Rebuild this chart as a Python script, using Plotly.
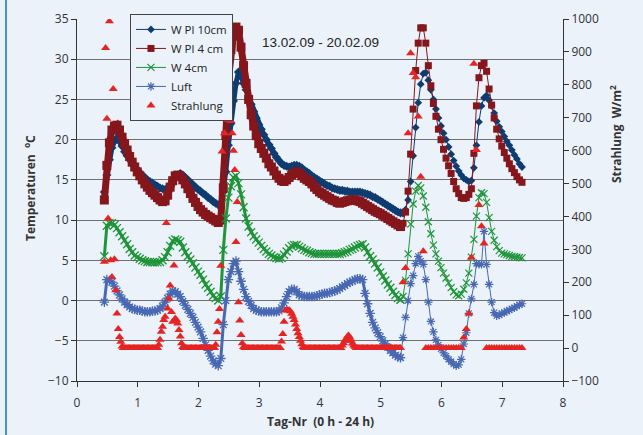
import plotly.graph_objects as go

# ---------------- data ----------------
start_day = 0.45          # first sample (day number)
temp_step = 1 / 24        # hourly temperature samples
rad_step = 1 / 48         # half-hourly radiation samples in the first (dense) period

# W Pl 10cm  [deg C]  dense logger period
wpl10_dense = [
    13.5, 15.6, 17.5, 19.0, 19.8, 20.2, 19.8, 19.2, 18.5, 18.0,
    17.5, 17.1, 16.7, 16.3, 15.9, 15.6, 15.3, 15.0, 14.8, 14.6,
    14.4, 14.2, 14.0, 13.9, 13.8, 14.0, 14.4, 14.9, 15.3, 15.6,
    15.8, 15.6, 15.3, 15.0, 14.7, 14.4, 14.1, 13.8, 13.6, 13.3,
    13.1, 12.8, 12.6, 12.3, 12.1, 11.9, 11.7, 13.5, 16.0, 19.3,
    22.0, 24.8, 27.0, 28.4, 27.9, 27.0, 26.2, 25.3, 24.4, 23.5,
    22.7, 21.9, 21.3, 20.6, 20.0, 19.4, 18.9, 18.3, 17.8, 17.4,
    17.0, 16.8, 16.7, 16.6, 16.7, 16.8, 16.8, 16.7, 16.5, 16.2,
    16.0, 15.8, 15.5, 15.3, 15.1, 14.9, 14.7, 14.5, 14.3, 14.2,
    14.0, 13.9, 13.8, 13.7, 13.7, 13.6, 13.6, 13.5, 13.5, 13.5,
    13.5, 13.5, 13.4, 13.3, 13.2, 13.1, 12.9, 12.8, 12.6, 12.4,
    12.2, 12.0, 11.8, 11.6, 11.4, 11.2, 11.0, 10.9,
]
# W Pl 10cm  hourly period
wpl10_sparse = [
    10.8, 11.3, 12.5, 14.8, 18.0, 21.5, 24.6, 26.9, 28.2, 28.35,
    27.4, 26.2, 25.0, 23.8, 22.7, 21.7, 20.8, 20.0, 19.1, 18.2,
    17.4, 16.7, 16.1, 15.6, 15.2, 15.0, 14.8, 14.9, 16.5, 19.3,
    22.2, 24.2, 25.2, 25.5, 24.9, 24.2, 23.3, 22.3, 21.6, 21.0,
    20.4, 19.8, 19.3, 18.7, 18.1, 17.6, 17.0, 16.6,
]

# W Pl 4 cm
wpl4_dense = [
    12.5, 16.8, 19.6, 21.2, 21.7, 21.8, 21.2, 20.3, 19.5, 18.7,
    17.9, 17.2, 16.6, 16.0, 15.5, 15.0, 14.5, 14.1, 13.7, 13.4,
    13.1, 12.8, 12.5, 12.3, 12.4, 13.1, 14.1, 14.9, 15.5, 15.6,
    15.4, 15.0, 14.5, 13.9, 13.3, 12.7, 12.2, 11.7, 11.3, 11.0,
    10.7, 10.5, 10.3, 10.1, 9.9, 9.7, 10.0, 14.0, 20.5, 27.5,
    31.2, 33.0, 34.0, 33.6, 31.5, 29.2, 27.0, 25.0, 23.1, 21.7,
    20.5, 19.5, 18.9, 18.3, 17.7, 17.0, 16.6, 16.1, 15.6, 15.2,
    14.9, 14.8, 15.0, 15.3, 15.6, 15.9, 16.0, 15.8, 15.5, 15.2,
    15.0, 14.8, 14.5, 14.1, 13.8, 13.5, 13.3, 13.1, 12.9, 12.7,
    12.5, 12.4, 12.2, 12.1, 12.2, 12.3, 12.4, 12.5, 12.5, 12.5,
    12.4, 12.3, 12.1, 11.9, 11.7, 11.5, 11.3, 11.1, 10.95, 10.8,
    10.6, 10.4, 10.2, 10.0, 9.8, 9.6, 9.4, 9.2,
]
wpl4_sparse = [
    9.6, 11.0, 13.6, 18.2, 23.8, 28.6, 32.0, 33.9, 33.9, 32.0,
    29.2, 26.7, 24.5, 22.9, 21.3, 20.0, 18.8, 17.7, 16.75, 15.8,
    14.8, 13.9, 13.3, 12.8, 12.7, 12.8, 13.2, 13.9, 18.3, 24.2,
    27.7, 29.2, 29.5, 28.5, 26.3, 24.3, 22.7, 21.3, 20.1, 19.2,
    18.4, 17.7, 17.0, 16.4, 15.9, 15.4, 15.0, 14.7,
]

# W 4cm
w4_dense = [
    5.5, 9.3, 9.6, 9.6, 9.4, 9.0, 8.5, 8.0, 7.5, 7.0,
    6.4, 6.0, 5.6, 5.4, 5.2, 5.0, 4.9, 4.8, 4.8, 4.75,
    4.75, 4.75, 4.8, 5.0, 5.4, 6.0, 6.8, 7.4, 7.6, 7.5,
    7.3, 6.6, 6.0, 5.5, 5.1, 4.6, 4.1, 3.6, 3.2, 2.6,
    2.0, 1.6, 1.1, 0.6, 0.3, 0.0, 0.5, 6.3, 10.2, 12.8,
    14.2, 15.3, 15.5, 14.6, 13.2, 11.6, 10.2, 9.2, 8.5, 8.0,
    7.6, 7.2, 6.8, 6.4, 6.1, 5.8, 5.6, 5.4, 5.3, 5.2,
    5.3, 5.7, 6.1, 6.5, 6.8, 6.9, 6.9, 6.7, 6.5, 6.3,
    6.2, 6.0, 5.9, 5.8, 5.8, 5.8, 5.8, 5.8, 5.8, 5.8,
    5.8, 5.8, 5.8, 5.8, 5.9, 6.0, 6.1, 6.3, 6.4, 6.6,
    6.8, 6.9, 7.0, 6.6, 6.0, 5.5, 5.1, 4.6, 4.1, 3.5,
    3.0, 2.5, 2.0, 1.6, 1.1, 0.7, 0.3, 0.1,
]
w4_sparse = [
    0.5, 2.5, 5.8, 9.5, 12.0, 13.6, 14.3, 14.0, 13.0, 11.6,
    9.8, 8.3, 6.9, 5.8, 4.9, 4.1, 3.4, 2.8, 2.2, 1.6,
    1.1, 0.7, 0.6, 0.8, 1.4, 2.2, 3.4, 5.4, 7.6, 10.5,
    12.8, 13.4, 13.3, 12.2, 10.3, 8.6, 7.5, 6.7, 6.2, 5.9,
    5.8, 5.7, 5.6, 5.5, 5.45, 5.4, 5.35, 5.3,
]

# Luft
luft_dense = [
    -0.2, 2.6, 2.5, 2.3, 1.8, 1.2, 0.7, 0.2, -0.2, -0.5,
    -0.8, -1.0, -1.1, -1.2, -1.2, -1.3, -1.4, -1.4, -1.4, -1.3,
    -1.3, -1.2, -1.0, -0.7, -0.2, 0.3, 0.8, 1.2, 1.1, 0.8,
    0.5, -0.1, -0.6, -1.1, -1.6, -2.1, -2.7, -3.3, -3.9, -4.7,
    -5.5, -6.2, -6.9, -7.5, -7.9, -8.1, -7.2, -3.0, 0.0, 2.6,
    3.6, 4.6, 4.9, 3.6, 2.4, 1.4, 0.5, -0.1, -0.6, -1.0,
    -1.2, -1.3, -1.4, -1.4, -1.4, -1.4, -1.4, -1.4, -1.4, -1.3,
    -0.9, -0.3, 0.5, 1.1, 1.4, 1.4, 1.1, 0.7, 0.6, 0.5,
    0.5, 0.5, 0.5, 0.5, 0.6, 0.7, 0.8, 0.9, 0.9, 1.0,
    1.1, 1.2, 1.3, 1.5, 1.7, 1.9, 2.1, 2.3, 2.4, 2.6,
    2.7, 2.7, 2.6, 0.9, -0.4, -1.6, -2.7, -3.4, -4.0, -4.5,
    -5.0, -5.4, -5.8, -6.2, -6.5, -6.8, -7.0, -7.1,
]
luft_sparse = [
    -4.6, -2.1, 0.0, 2.1, 3.1, 4.6, 5.5, 4.9, 4.5, 2.6,
    -0.2, -2.6, -3.9, -4.9, -5.5, -6.0, -6.5, -6.9, -7.3, -7.6,
    -7.9, -8.1, -8.0, -7.3, -5.4, -4.0, -1.6, 0.2, 2.0, 4.6,
    4.5, 4.5, 8.6, 4.5, 2.0, -0.2, -1.5, -1.9, -1.8, -1.6,
    -1.5, -1.3, -1.2, -1.0, -0.9, -0.7, -0.5, -0.4,
]

# Strahlung [W/m2], half-hourly in the dense period
strahl_dense = [
    262, 912, 697, 394, 993, 267, 216, 787, 270, 176, 105, 58, 34, 19, 5,
    0, 0, 0, 0, 0, 0, 0, 0, 0, 0, 0, 0, 0, 0, 0, 0, 0, 0, 0, 0, 0, 0, 0, 0, 0, 0, 0, 0,
    10, 25, 50, 65, 85, 95, 380, 120, 150, 190, 110, 80, 251, 90, 85, 75, 55, 35, 15, 3,
    0, 0, 0, 0, 0, 0, 0, 0, 0, 0, 0, 0, 0, 0, 0, 0, 0, 0, 0, 0, 0, 0, 0, 0, 0,
    10, 48, 80, 119, 250, 597, 785, 653, 734, 880, 693, 896, 690, 653, 600, 541, 322, 444, 139, 84, 40, 15, 3,
    0, 0, 0, 0, 0, 0, 0, 0, 0, 0, 0, 0, 0, 0, 0, 0, 0, 0, 0, 0, 0, 0, 0, 0, 0, 0, 0, 0, 0,
    20, 43, 80, 114, 116, 115, 115, 112, 104, 95, 85, 72, 58, 45, 34, 22, 12, 3,
    0, 0, 0, 0, 0, 0, 0, 0, 0, 0, 0, 0, 0, 0, 0, 0, 0, 0, 0, 0, 0, 0, 0, 0, 0, 0, 0, 0, 0, 0,
    8, 15, 22, 28, 35, 38, 32, 22, 14, 8, 4,
    0, 0, 0, 0, 0, 0, 0, 0, 0, 0, 0, 0, 0, 0, 0, 0, 0, 0, 0, 0, 0, 0, 0, 0, 0, 0, 0, 0, 0, 0, 0, 0, 0, 0, 0, 0,
]
# Strahlung hourly period
strahl_sparse = [
    200, 243, 653, 896, 836, 823, 704, 521, 294, 0,
    0, 0, 0, 0, 0, 0, 0, 0, 0, 0, 0, 0, 0, 0,
    32, 58, 105, 275, 864, 602, 435, 370, 318,
    0, 0, 0, 0, 0, 0, 0, 0, 0, 0, 0, 0, 0, 0, 0,
]

# ---------------- build figure ----------------
n_dense = len(wpl10_dense)
x_dense = [start_day + k * temp_step for k in range(n_dense)]
x_sparse = [start_day + k * temp_step for k in range(n_dense - 1, n_dense + len(wpl10_sparse))]
x_rad = ([start_day + j * rad_step for j in range(len(strahl_dense))]
         + [start_day + k * temp_step for k in range(n_dense, n_dense + len(strahl_sparse))])
y_rad = strahl_dense + strahl_sparse

BG = "#EBF2FA"
FONT = "Open Sans"
C10 = "#0E3C70"
C4 = "#85161B"
CG = "#1F9438"
CL = "#4868B2"
CR = "#E52424"

# name, dense, sparse, colour, marker, dense marker size, dense line width
series = [
    ("W Pl 10cm", wpl10_dense, wpl10_sparse, C10, dict(symbol="diamond", size=6), 7, 5),
    ("W Pl 4 cm", wpl4_dense, wpl4_sparse, C4, dict(symbol="square", size=7), 9, 7),
    ("W 4cm", w4_dense, w4_sparse, CG,
     dict(symbol="x-thin-open", size=7, line=dict(width=1.2)), 8, 3),
    ("Luft", luft_dense, luft_sparse, CL,
     dict(symbol="asterisk-open", size=7, line=dict(width=1.2)), 8, 3),
]

fig = go.Figure()
for name, dense, sparse, col, mk, dsize, dwidth in series:
    mk_dense = dict(mk)
    mk_dense["size"] = dsize
    mk_dense["color"] = col
    if "line" in mk_dense:
        mk_dense["line"] = dict(width=1.3, color=col)
    fig.add_trace(go.Scatter(
        x=x_dense, y=dense, mode="lines+markers", name=name, legendgroup=name,
        showlegend=False, line=dict(color=col, width=dwidth),
        marker=mk_dense, hoverinfo="skip"))
    mk_sp = dict(mk)
    mk_sp["color"] = col
    if "line" in mk_sp:
        mk_sp["line"] = dict(width=1.2, color=col)
    fig.add_trace(go.Scatter(
        x=x_sparse, y=[dense[-1]] + sparse, mode="lines+markers", name=name,
        legendgroup=name, line=dict(color=col, width=1), marker=mk_sp))

fig.add_trace(go.Scatter(
    x=x_rad, y=y_rad, mode="markers", name="Strahlung", yaxis="y2",
    marker=dict(symbol="triangle-up", size=8, color=CR)))

axis_font = dict(family=FONT, size=12, color="#333333")
fig.update_layout(
    width=643, height=435,
    margin=dict(l=77, r=80, t=19, b=54),
    paper_bgcolor=BG, plot_bgcolor=BG,
    font=dict(family=FONT, size=12, color="#222222"),
    xaxis=dict(range=[0, 8], dtick=1, showline=True, linecolor="#333333", linewidth=1,
               ticks="outside", ticklen=5, tickcolor="#333333", showgrid=False,
               zeroline=False, tickfont=axis_font, automargin=False,
               ticklabelstandoff=6),
    yaxis=dict(range=[-10, 35], dtick=5, showline=True, linecolor="#333333", linewidth=1,
               ticks="outside", ticklen=5, tickcolor="#333333", showgrid=True,
               gridcolor="#707070", gridwidth=1, zeroline=False, tickfont=axis_font,
               automargin=False),
    yaxis2=dict(range=[-100, 1000], dtick=100, overlaying="y", side="right",
                showline=True, linecolor="#333333", linewidth=1, ticks="outside",
                ticklen=5, tickcolor="#333333", showgrid=False, zeroline=False,
                tickfont=axis_font, automargin=False),
    legend=dict(x=0.109, y=1.014, xanchor="left", yanchor="top", bgcolor=BG,
                bordercolor="#444444", borderwidth=1, font=dict(family=FONT, size=11.5),
                tracegroupgap=0, itemwidth=30),
    shapes=[dict(type="line", xref="paper", yref="paper", x0=-0.1461, x1=-0.1461,
                 y0=-0.16, y1=1.06, line=dict(color="#4A8FD6", width=2))],
    annotations=[
        dict(x=0.502, y=0.934, xref="paper", yref="paper", showarrow=False,
             xanchor="center", yanchor="middle",
             text="13.02.09 - 20.02.09",
             font=dict(family="Liberation Sans", size=13.5, color="#222222")),
        dict(x=-0.0967, y=0.533, xref="paper", yref="paper", showarrow=False, textangle=-90,
             xanchor="center", yanchor="middle",
             text="<b>Temperaturen  <sup>o</sup>C</b>",
             font=dict(family=FONT, size=12, color="#333333")),
        dict(x=1.109, y=0.682, xref="paper", yref="paper", showarrow=False, textangle=-90,
             xanchor="center", yanchor="middle",
             text="<b>Strahlung  W/m<sup>2</sup></b>",
             font=dict(family=FONT, size=12, color="#333333")),
        dict(x=0.5, y=-0.1105, xref="paper", yref="paper", showarrow=False,
             xanchor="center", yanchor="middle",
             text="<b>Tag-Nr  (0 h - 24 h)</b>",
             font=dict(family=FONT, size=12, color="#333333")),
    ],
)

fig.write_html("out.html", config={"displayModeBar": False},
               post_script="document.body.style.margin='0';")
